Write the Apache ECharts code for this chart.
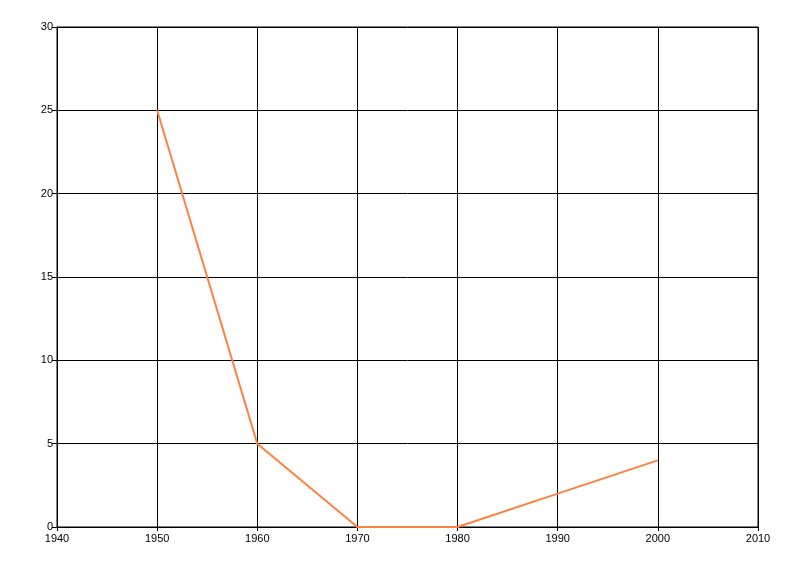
<!DOCTYPE html>
<html><head><meta charset="utf-8">
<script src="https://cdn.jsdelivr.net/npm/echarts@6/dist/echarts.min.js"></script>
<style>html,body{margin:0;padding:0;background:#fff}#c{width:800px;height:576px}</style>
</head><body><div id="c"></div>
<script>
const years = [1950, 1960, 1970, 1980, 1990, 2000];
const values = [25, 5, 0, 0, 2, 4];
const xTicks = {min: 1940, max: 2010, interval: 10};
const yTicks = {min: 0, max: 30, interval: 5};

const chart = echarts.init(document.getElementById('c'), null, {renderer: 'canvas'});
const labelStyle = {color: '#000', fontFamily: 'Liberation Sans, Arial, sans-serif', fontSize: 11};
const axisCommon = {
  axisLine: {show: true, onZero: false, lineStyle: {color: '#000', width: 1}},
  splitLine: {show: true, lineStyle: {color: '#000', width: 1}}
};
chart.setOption({
  animation: false,
  backgroundColor: '#fff',
  grid: {left: 57, right: 42, top: 27, bottom: 49, show: true, borderColor: '#000', borderWidth: 1},
  xAxis: Object.assign({type: 'value', min: xTicks.min, max: xTicks.max, interval: xTicks.interval}, axisCommon, {
    axisTick: {show: true, length: 4, lineStyle: {color: '#000'}},
    axisLabel: Object.assign({}, labelStyle, {margin: 6, formatter: v => String(v)})
  }),
  yAxis: Object.assign({type: 'value', min: yTicks.min, max: yTicks.max, interval: yTicks.interval}, axisCommon, {
    axisTick: {show: true, length: 5, lineStyle: {color: '#000'}},
    axisLabel: Object.assign({}, labelStyle, {margin: 4, formatter: v => String(v)})
  }),
  series: [{
    type: 'line',
    data: years.map((y, i) => [y, values[i]]),
    showSymbol: false,
    lineStyle: {color: '#FF8040', width: 2},
    itemStyle: {color: '#FF8040'}
  }]
});
</script></body></html>
